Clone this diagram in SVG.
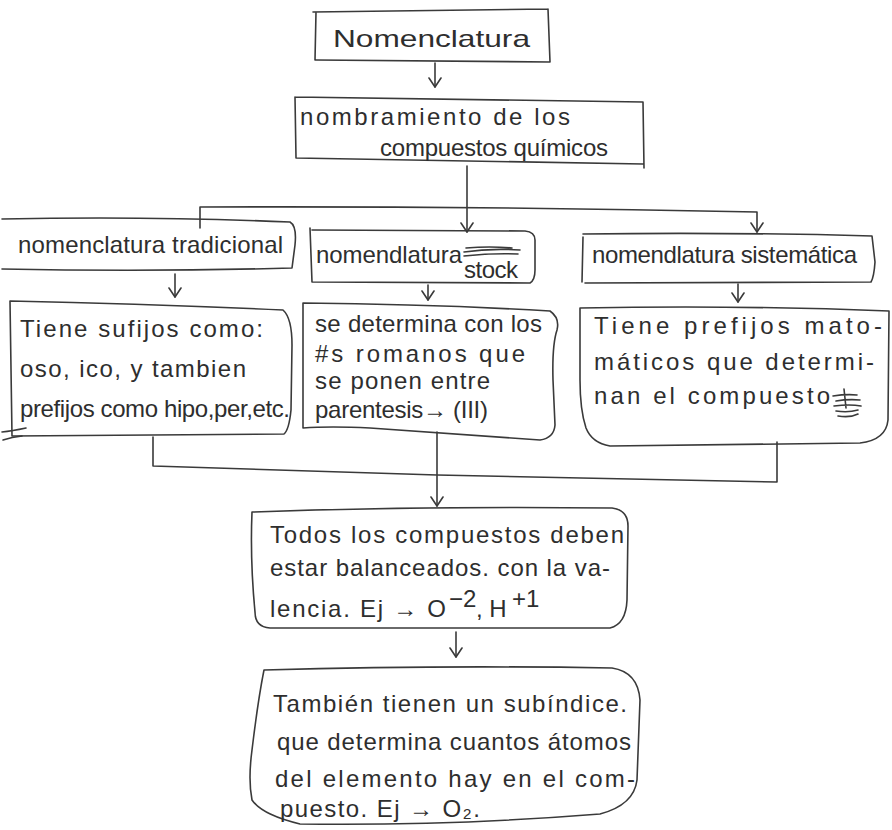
<svg xmlns="http://www.w3.org/2000/svg" width="892" height="830" viewBox="0 0 892 830">
<defs>
<style>
.bx{fill:none;stroke:#3a3a3a;stroke-width:1.6;stroke-linejoin:round;stroke-linecap:round}
.ln{fill:none;stroke:#3a3a3a;stroke-width:1.6;stroke-linecap:round;stroke-linejoin:round}
.t{font-family:"Liberation Sans","DejaVu Sans",sans-serif;fill:#2e2e2e;font-size:24px}
</style>
<marker id="v" viewBox="-10 -7 12 14" markerWidth="12" markerHeight="14" refX="0" refY="0" orient="auto" markerUnits="userSpaceOnUse">
<path d="M-9,-6 L0,0 L-9,6" fill="none" stroke="#3a3a3a" stroke-width="1.6" stroke-linecap="round" stroke-linejoin="round"/>
</marker>
</defs>
<rect width="892" height="830" fill="#ffffff"/>

<g id="connectors">
<path class="ln" d="M435,63 L435,87" marker-end="url(#v)"/>
<path class="ln" d="M467,166 L467,232" marker-end="url(#v)"/>
<path class="ln" d="M200,228 L200,207 Q480,206 757,212 L757,232" marker-end="url(#v)"/>
<path class="ln" d="M175,274 L175,297" marker-end="url(#v)"/>
<path class="ln" d="M428,285 L428,300" marker-end="url(#v)"/>
<path class="ln" d="M738,284 L738,302" marker-end="url(#v)"/>
<path class="ln" d="M153,437 L153,466 L437,475 L777,482 L777,442"/>
<path class="ln" d="M437,432 L437,506" marker-end="url(#v)"/>
<path class="ln" d="M456,632 L456,657" marker-end="url(#v)"/>
</g>

<g id="n1">
<path class="bx" d="M313,12 L548,9 M548,9 L550,62 M550,62 L316,60 M316,12 L315,60"/>
<text class="t" x="333" y="47" font-size="32" textLength="197" lengthAdjust="spacingAndGlyphs">Nomenclatura</text>
</g>

<g id="n2">
<path class="bx" d="M295,97 L643,102 L644,168 M643,164 L296,158 L295,97"/>
<text class="t" x="300" y="125" font-size="25" textLength="270" lengthAdjust="spacing">nombramiento de los</text>
<text class="t" x="380" y="156" textLength="228" lengthAdjust="spacing">compuestos químicos</text>
</g>

<g id="n3">
<path class="bx" d="M2,219 Q150,216 290,222 Q297,226 295,245 L292,268 Q150,272 2,269"/>
<text class="t" x="18" y="253" font-size="23" textLength="265" lengthAdjust="spacing">nomenclatura tradicional</text>
</g>

<g id="n4">
<path class="bx" d="M10,301 Q150,304 283,310 Q292,318 292,345 L291,410 Q289,430 284,434 L12,436 Z"/>
<path class="ln" d="M2,432 Q12,431 26,428 M3,440 Q12,437 22,436"/>
<text class="t" x="20" y="337" font-size="25" textLength="243" lengthAdjust="spacing">Tiene sufijos como:</text>
<text class="t" x="20" y="377" font-size="25" textLength="226" lengthAdjust="spacing">oso, ico, y tambien</text>
<text class="t" x="20" y="417" font-size="22" textLength="270" lengthAdjust="spacing">prefijos como hipo,per,etc.</text>
</g>

<g id="n5">
<path class="bx" d="M310,228 L312,282 L530,283 Q535,280 535,270 L535,240 Q535,232 525,231 L312,230"/>
<text class="t" x="316" y="263" textLength="146" lengthAdjust="spacing">nomendlatura</text>
<path class="ln" d="M464,252 Q490,248 520,250 M464,256 Q492,253 518,254 M466,248 Q490,246 512,248"/>
<text class="t" x="464" y="278" font-size="15" textLength="54" lengthAdjust="spacing">stock</text>
</g>

<g id="n6">
<path class="bx" d="M303,303 Q430,304 550,311 Q560,318 557,330 Q552,345 553,380 L555,425 Q554,438 540,440 L370,428 Q330,426 303,428 Z"/>
<text class="t" x="315" y="332" textLength="227" lengthAdjust="spacing">se determina con los</text>
<text class="t" x="315" y="362" textLength="210" lengthAdjust="spacing">#s romanos que</text>
<text class="t" x="315" y="389" textLength="175" lengthAdjust="spacing">se ponen entre</text>
<text class="t" x="315" y="418" textLength="173" lengthAdjust="spacing">parentesis→ (III)</text>
</g>

<g id="n7">
<path class="bx" d="M583,237 L582,282 M583,234 Q730,232 872,236 L875,262 Q874,277 871,282 L585,283"/>
<text class="t" x="592" y="263" font-size="21" textLength="265" lengthAdjust="spacing">nomendlatura sistemática</text>
</g>

<g id="n8">
<path class="bx" d="M580,308 Q740,305 889,311 L888,420 Q886,440 860,443 L610,446 Q592,443 586,428 Q580,410 580,380 Z"/>
<text class="t" x="594" y="334" font-size="25" textLength="288" lengthAdjust="spacing">Tiene prefijos mato-</text>
<text class="t" x="594" y="370" font-size="25" textLength="280" lengthAdjust="spacing">máticos que determi-</text>
<text class="t" x="594" y="404" font-size="25" textLength="236" lengthAdjust="spacing">nan el compuesto</text>
<path class="ln" d="M833,396 Q846,394 857,395 M836,401 Q848,399 860,400 M834,406 Q850,404 861,406 M836,411 Q848,413 858,410 M838,416 Q850,418 858,414 M844,389 L846,408"/>
</g>

<g id="n9">
<path class="bx" d="M252,512 Q420,506 612,508 Q628,510 628,526 L627,600 Q626,624 610,628 L270,628 Q255,627 255,612 Q250,560 252,512 Z"/>
<text class="t" x="270" y="543" textLength="354" lengthAdjust="spacing">Todos los compuestos deben</text>
<text class="t" x="270" y="576" textLength="340" lengthAdjust="spacing">estar balanceados. con la va-</text>
<text class="t" x="270" y="617" textLength="176" lengthAdjust="spacing">lencia. Ej → O</text>
<text class="t" x="449" y="607" font-size="14">−2</text>
<text class="t" x="476" y="617">, H</text>
<text class="t" x="512" y="607" font-size="14">+1</text>
</g>

<g id="n10">
<path class="bx" d="M264,670 Q440,665 612,668 Q638,672 640,700 L637,780 Q634,805 600,814 Q450,826 300,824 Q262,815 252,800 Q248,780 252,750 Q258,700 264,670 Z"/>
<text class="t" x="273" y="712" textLength="354" lengthAdjust="spacing">También tienen un subíndice.</text>
<text class="t" x="277" y="750" textLength="354" lengthAdjust="spacing">que determina cuantos átomos</text>
<text class="t" x="275" y="787" textLength="360" lengthAdjust="spacing">del elemento hay en el com-</text>
<text class="t" x="280" y="817" textLength="200" lengthAdjust="spacing">puesto. Ej → O₂.</text>
</g>
</svg>
